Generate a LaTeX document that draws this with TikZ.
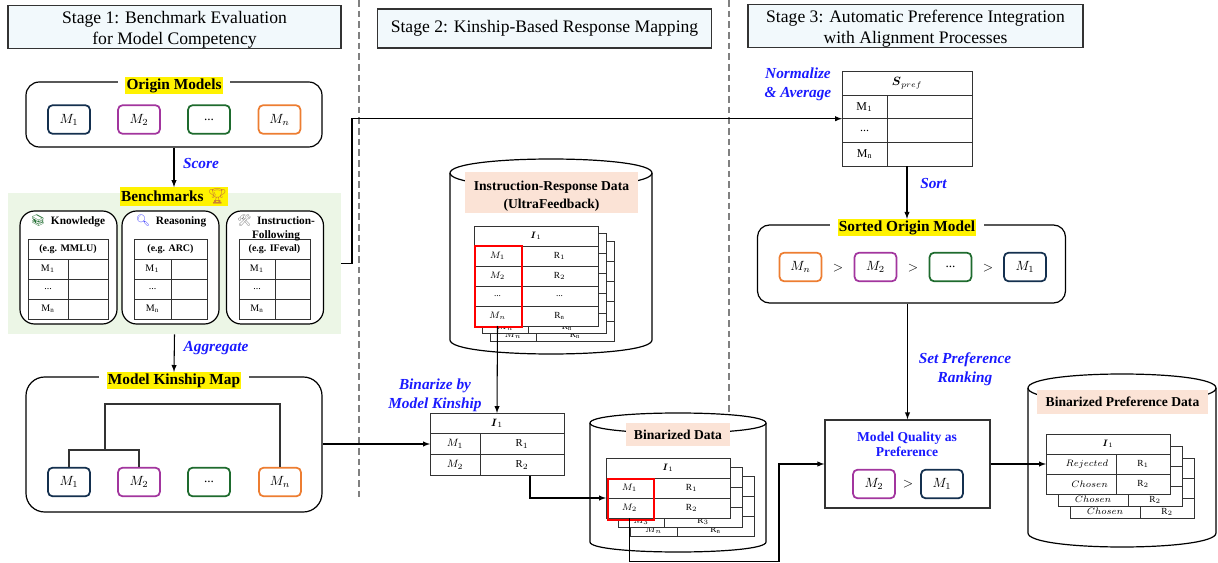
\documentclass[tikz,border=0pt]{standalone}
\usepackage{amsmath}
\usepackage{fontspec}
\setmainfont{Liberation Serif}
\newfontfamily\emojifont{Noto Emoji}
\usetikzlibrary{arrows, positioning}
\definecolor{stagefill}{HTML}{F2F9FC}
\definecolor{panelgreen}{HTML}{ECF6E6}
\definecolor{peach}{HTML}{FBE3D6}
\definecolor{navy}{HTML}{14304F}
\definecolor{plum}{HTML}{A2359E}
\definecolor{leaf}{HTML}{1E6B2E}
\definecolor{carrot}{HTML}{ED7D31}
\definecolor{inkblue}{HTML}{1A1AFF}
\definecolor{rule}{HTML}{333333}
\tikzset{%
  stage/.style={draw=rule, line width=1pt, fill=stagefill, align=center, inner sep=0pt,
    font=\fontsize{13.2}{15.5}\selectfont},
  outer/.style={draw=black, line width=.9pt, inner sep=0pt, fill=white},
  sub/.style={draw=black, line width=.9pt, rounded corners=11pt, inner sep=0pt, fill=white,
    minimum width=72.75pt, minimum height=84.75pt},
  title/.style={fill=yellow, inner sep=1pt, font=\fontsize{11.5}{13}\selectfont\bfseries},
  gap/.style={preaction={draw=white, line width=11pt}},
  subtitle/.style={inner sep=0pt, align=center, font=\fontsize{8.5}{10.5}\selectfont\bfseries},
  model/.style={draw=#1, line width=1.3pt, rounded corners=3.5pt, minimum width=31.5pt,
    minimum height=21.5pt, inner sep=0pt, fill=white, font=\normalsize},
  gt/.style={inner sep=0pt, font=\normalsize},
  cell/.style={draw=rule, line width=.7pt, fill=white, inner sep=0pt, outer sep=0pt, anchor=north west},
  flow/.style={-latex, line width=.8pt},
  branch/.style={line width=.9pt, draw=rule},
  note/.style={inner sep=0pt, align=center, text=inkblue,
    font=\fontsize{11.5}{14.25}\selectfont\bfseries\itshape},
  divider/.style={draw=gray, line width=.9pt, dash pattern=on 5pt off 3pt},
  drum/.style={draw=black, line width=.9pt, fill=white},
  plate/.style={fill=peach, inner sep=0pt, align=center, font=\fontsize{10.2}{13.5}\selectfont\bfseries},
  redmark/.style={draw=red, line width=1.5pt, inner sep=0pt, anchor=north west}
}
\newcommand{\threedots}{...}
\newcommand{\stagestrut}{\rule{0pt}{13.5pt}}
\newcommand{\dropped}[1]{\raisebox{-4.5pt}[0pt][0pt]{#1}}
% left, right, top of side, bottom of side, bulge
\newcommand{\drawdrum}[5]{%
  \draw[drum] (#1,#3) .. controls (#1,{#3-1.333*#5}) and (#2,{#3-1.333*#5}) .. (#2,#3)
    -- (#2,#4) .. controls (#2,{#4+1.333*#5}) and (#1,{#4+1.333*#5}) .. (#1,#4) -- cycle;
  \draw[drum, fill=none] (#1,#3) .. controls (#1,{#3+1.333*#5}) and (#2,{#3+1.333*#5}) .. (#2,#3);
}
% name, x, y, left width, right width, head height, row height, head text, rows
\newcommand{\rowtable}[9]{%
  \node[cell, minimum width={(#4+#5)*.75pt}, minimum height=#6*.75pt] (#1-h) at (#2,#3) {#8};
  \foreach \lefttext/\righttext [count=\rownum] in {#9} {
    \node[cell, minimum width=#4*.75pt, minimum height=#7*.75pt] (#1-\rownum-l) at (#2,{#3+#6+(\rownum-1)*#7}) {\lefttext};
    \node[cell, minimum width=#5*.75pt, minimum height=#7*.75pt] (#1-\rownum-r) at ({#2+#4},{#3+#6+(\rownum-1)*#7}) {\righttext};
  }
}
\begin{document}
\begin{tikzpicture}[x=.75pt, y=-.75pt]
  \useasboundingbox (0,0) rectangle (1218,563);

  \draw[divider] (359,0) -- (359,497);
  \draw[divider] (729,0) -- (729,413);

  \node[stage, minimum width=249.75pt, minimum height=31.5pt] (stage1) at (174.5,27) {\stagestrut Stage 1: Benchmark Evaluation\\for Model Competency};
  \node[stage, minimum width=250.5pt, minimum height=29.25pt] (stage2) at (544.5,28.5) {Stage 2: Kinship-Based Response Mapping};
  \node[stage, minimum width=251.25pt, minimum height=30pt] (stage3) at (915.5,26) {\stagestrut Stage 3: Automatic Preference Integration\\with Alignment Processes};

  % stage 1
  \node[outer, rounded corners=10pt, minimum width=222pt, minimum height=48.75pt] (origin) at (174,114.5) {};
  \node[title, gap] (originTitle) at (174,85.5) {Origin Models};
  \node[model=navy] (oM1) at (69,119.5) {$M_1$};
  \node[model=plum] (oM2) at (139,119.5) {$M_2$};
  \node[model=leaf] (oM3) at (209,119.5) {...};
  \node[model=carrot] (oMn) at (279.5,119.5) {$M_n$};

  \node[fill=panelgreen, inner sep=0pt, minimum width=249.75pt, minimum height=105.75pt] (bench) at (174.5,263.5) {};
  \node[title] (benchTitle) at (174,196.5) {Benchmarks {\emojifont\color{brown!80!orange}\symbol{"1F3C6}}};
  \node[sub] (subK) at (68.5,267.5) {};
  \node[sub] (subR) at (170.5,267.5) {};
  \node[sub] (subI) at (275,267.5) {};
  \begin{scope}[nodes={font=\fontsize{7.5}{9}\selectfont}]
    \rowtable{tabK}{28}{239}{40}{40}{20}{20}{\bfseries (e.g. MMLU)}{$\mathrm{M}_1$/, \threedots/, $\mathrm{M}_\mathrm{n}$/}
    \rowtable{tabR}{134}{239}{37}{36}{20}{20}{\bfseries (e.g. ARC)}{$\mathrm{M}_1$/, \threedots/, $\mathrm{M}_\mathrm{n}$/}
    \rowtable{tabI}{239}{239}{36}{35}{20}{20}{\bfseries (e.g. IFeval)}{$\mathrm{M}_1$/, \threedots/, $\mathrm{M}_\mathrm{n}$/}
  \end{scope}
  \node[subtitle] (subKTitle) at (68,221) {{\emojifont\color{leaf}\symbol{"1F4DA}}\ \ Knowledge};
  \node[subtitle] (subRTitle) at (171,221) {{\emojifont\color{blue!70}\symbol{"1F50D}}\ \ Reasoning};
  \node[subtitle] (subITitle) at (276,228) {{\emojifont\color{gray}\symbol{"1F6E0}}\ \ Instruction-\\Following};

  \node[outer, rounded corners=14pt, minimum width=222pt, minimum height=101.25pt] (kinship) at (174,444.5) {};
  \node[title, gap] (kinshipTitle) at (174,380.5) {Model Kinship Map};
  \node[model=navy] (kM1) at (69,482) {$M_1$};
  \node[model=plum] (kM2) at (139,482) {$M_2$};
  \node[model=leaf] (kM3) at (209,482) {...};
  \node[model=carrot] (kMn) at (280,482) {$M_n$};
  \coordinate (treeA) at (105,450);
  \coordinate (treeB) at (200,404);
  \draw[branch] (kM1.north) |- (treeA) -| (kM2.north);
  \draw[branch] (treeA) |- (treeB) -| (kMn.north);

  % stage 2
  \drawdrum{450}{652}{173}{340}{14}
  \node[plate, minimum width=129.75pt, minimum height=30.75pt] (plateIR) at (551.5,192.5) {\rule{0pt}{12.5pt}Instruction-Response Data\\(UltraFeedback)};
  \begin{scope}[nodes={font=\scriptsize}]
    \rowtable{irB}{490}{241}{46}{78}{20}{20}{}{/, /, /, \dropped{$M_n$}/\dropped{$\mathrm{R}_\mathrm{n}$}}
    \rowtable{irA}{482}{233}{46}{78}{20}{20}{}{/, /, /, \dropped{$M_n$}/\dropped{$\mathrm{R}_\mathrm{n}$}}
    \rowtable{irT}{474}{226}{47}{77}{20}{20}{$\boldsymbol{I}_1$}{$M_1$/$\mathrm{R}_1$, $M_2$/$\mathrm{R}_2$, \threedots/\threedots, $M_n$/$\mathrm{R}_\mathrm{n}$}
  \end{scope}
  \node[redmark, minimum width=35.25pt, minimum height=60.75pt] (irMark) at (474,245) {};

  \begin{scope}[nodes={font=\footnotesize}]
    \rowtable{kin}{430}{413}{50}{84}{20.5}{21}{$\boldsymbol{I}_1$}{$M_1$/$\mathrm{R}_1$, $M_2$/$\mathrm{R}_2$}
  \end{scope}

  \drawdrum{590}{766}{423}{542}{10}
  \node[plate, minimum width=78pt, minimum height=17.25pt] (plateBin) at (678,434.5) {Binarized Data};
  \begin{scope}[nodes={font=\scriptsize}]
    \rowtable{binB}{630}{476}{47}{77}{20}{20}{}{/, \dropped{$M_n$}/\dropped{$\mathrm{R}_\mathrm{n}$}}
    \rowtable{binA}{618}{467}{46}{78}{20}{20}{}{/, \dropped{$M_3$}/\dropped{$\mathrm{R}_3$}}
    \rowtable{binT}{606}{458}{47}{77}{20}{20}{$\boldsymbol{I}_1$}{$M_1$/$\mathrm{R}_1$, $M_2$/$\mathrm{R}_2$}
  \end{scope}
  \node[redmark, minimum width=34.5pt, minimum height=30.75pt] (binMark) at (607,477.5) {};

  % stage 3
  \begin{scope}[nodes={font=\small}]
    \rowtable{spref}{842}{71}{45}{85}{24}{23.7}{$\boldsymbol{S}_{pref}$}{$\mathrm{M}_1$/, \threedots/, $\mathrm{M}_\mathrm{n}$/}
  \end{scope}

  \node[outer, rounded corners=9pt, minimum width=231pt, minimum height=58.5pt] (sorted) at (911.5,264) {};
  \node[title, gap] (sortedTitle) at (907,227.5) {Sorted Origin Model};
  \node[model=carrot] (sMn) at (800.5,267) {$M_n$};
  \node[gt] (sGt1) at (838,268) {$>$};
  \node[model=plum] (sM2) at (875.5,267) {$M_2$};
  \node[gt] (sGt2) at (913,268) {$>$};
  \node[model=leaf] (sM3) at (950.5,267) {...};
  \node[gt] (sGt3) at (988,268) {$>$};
  \node[model=navy] (sM1) at (1025,267) {$M_1$};

  \node[draw=rule, line width=1pt, inner sep=0pt, minimum width=123.75pt, minimum height=66pt] (quality) at (907.5,464) {};
  \node[inner sep=0pt, align=center, text=inkblue, font=\fontsize{10.2}{11.5}\selectfont\bfseries] (qualityText) at (907,444.5) {Model Quality as\\Preference};
  \node[model=plum] (qM2) at (874,484) {$M_2$};
  \node[gt] (qGt) at (908,484) {$>$};
  \node[model=navy] (qM1) at (942,484) {$M_1$};

  \drawdrum{1028}{1216}{388}{533}{14}
  \node[plate, minimum width=128.25pt, minimum height=18pt] (platePref) at (1122.5,401.5) {Binarized Preference Data};
  \begin{scope}[nodes={font=\scriptsize}]
    \rowtable{prefB}{1070}{458}{70}{54}{20}{20}{}{/, \dropped{$Chosen$}/\dropped{$\mathrm{R}_2$}}
    \rowtable{prefA}{1058}{446}{70}{54}{20}{20}{}{/, \dropped{$Chosen$}/\dropped{$\mathrm{R}_2$}}
    \rowtable{prefT}{1046}{434}{70}{54}{20}{20}{$\boldsymbol{I}_1$}{\hspace*{9pt}$Rejected$/$\mathrm{R}_1$, \hspace*{13pt}$Chosen$/$\mathrm{R}_2$}
  \end{scope}

  % connectors
  \coordinate (benchTurn) at (352,200);
  \coordinate (busTurn) at (779,561.5);
  \draw[flow] (origin.south) -- (benchTitle.north);
  \draw[flow] (bench.south) -- (kinshipTitle.north);
  \draw[flow] (bench.east) -| (benchTurn) |- (spref-1-l.south west);
  \draw[flow] (kin-1-l.west -| kinship.east) -- (kin-1-l.west);
  \draw[flow] (irT-4-l.south) -- (kin-h.north);
  \draw[flow] ([xshift=6pt]kin-2-r.south) |- (binT-1-l.south west);
  \draw[flow] (binT-2-l.south) |- (busTurn) |- (quality.west);
  \draw[flow] (spref-3-l.south -| sortedTitle.north) -- (sortedTitle.north);
  \draw[flow] (sorted.south -| quality.north) -- (quality.north);
  \draw[flow] (quality.east) -- (prefT-1-l.west);

  % labels
  \node[note] (scoreNote) at (201,163) {Score};
  \node[note] (aggregateNote) at (216,348.5) {Aggregate};
  \node[note] (binarizeNote) at (435,395.5) {Binarize by\\Model Kinship};
  \node[note] (normalizeNote) at (798,84.5) {Normalize\\\& Average};
  \node[note] (sortNote) at (933.5,183) {Sort};
  \node[note] (rankingNote) at (965,369.5) {Set Preference\\Ranking};
\end{tikzpicture}
\end{document}
